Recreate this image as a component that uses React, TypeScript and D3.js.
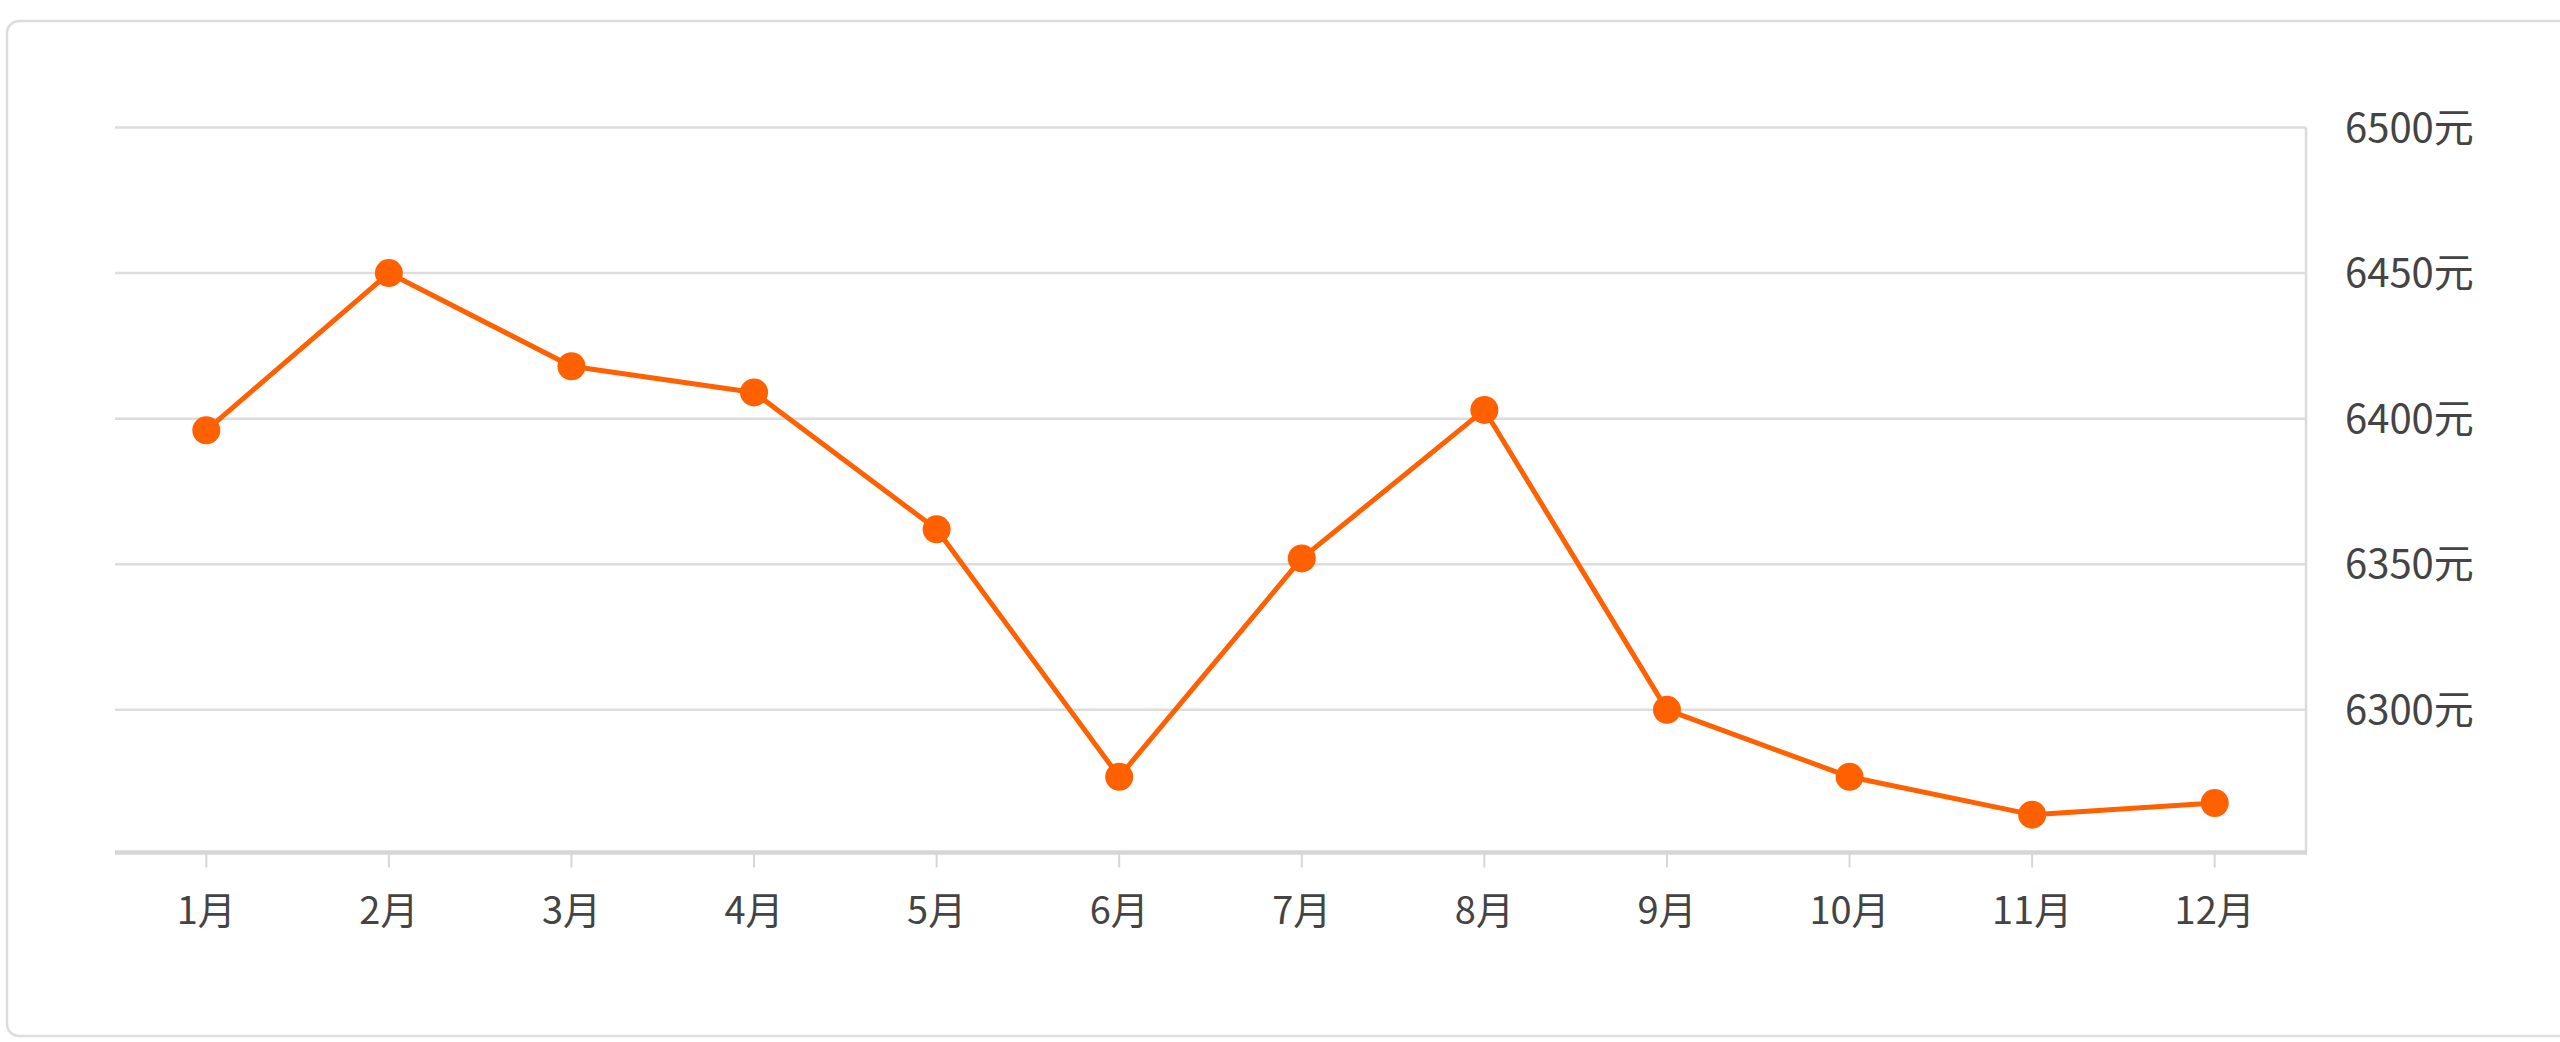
import React from "react";
import * as d3 from "d3";

const months = ["1月", "2月", "3月", "4月", "5月", "6月", "7月", "8月", "9月", "10月", "11月", "12月"];
const prices = [6396, 6450, 6418, 6409, 6362, 6277, 6352, 6403, 6300, 6277, 6264, 6268];
const yTicks = [6300, 6350, 6400, 6450, 6500];
const yUnit = "元";

const W = 2560;
const H = 1042;
const FONT = '"Noto Sans CJK SC", "Noto Sans", sans-serif';

export default function App() {
  const left = 115;
  const right = 2306;
  const top = 127.5;
  const bottom = 852.5;

  const x = d3.scalePoint<string>().domain(months).range([left, right]).padding(0.5);
  const y = d3.scaleLinear().domain([6251, 6500]).range([bottom, top]);

  const line = d3
    .line<number>()
    .x((_, i) => x(months[i]) as number)
    .y((d) => y(d));

  const color = "#ff6000";

  return (
    <svg
      width={W}
      height={H}
      style={{ position: "absolute", left: 0, top: 0, background: "#fff" }}
    >
      <rect x={7} y={21} width={2600} height={1015} rx={12} ry={12} fill="#fff" stroke="#dcdcdc" strokeWidth={2.5} />
      {/* gridlines */}
      {yTicks.map((t) => (
        <line key={t} x1={left} x2={right} y1={y(t)} y2={y(t)} stroke="#dcdcdc" strokeWidth={2.5} />
      ))}
      {/* right axis line */}
      <line x1={right} x2={right} y1={top} y2={bottom} stroke="#dcdcdc" strokeWidth={2.5} />
      {/* x axis line */}
      <line x1={left} x2={right + 1} y1={bottom} y2={bottom} stroke="#d6d6d6" strokeWidth={4.5} />
      {/* ticks */}
      {months.map((m) => (
        <line key={m} x1={x(m)} x2={x(m)} y1={bottom} y2={bottom + 15} stroke="#d6d6d6" strokeWidth={2} />
      ))}
      {/* x labels */}
      {months.map((m) => (
        <text
          key={m}
          x={x(m)}
          y={907}
          textAnchor="middle"
          dominantBaseline="central"
          fontFamily={FONT}
          fontSize={38}
          fill="#444"
        >
          {m}
        </text>
      ))}
      {/* y labels */}
      {yTicks.map((t) => (
        <text
          key={t}
          x={2345}
          y={y(t) - 3}
          textAnchor="start"
          dominantBaseline="central"
          fontFamily={FONT}
          fontSize={40}
          fill="#444"
        >
          {`${t}${yUnit}`}
        </text>
      ))}
      {/* series */}
      <path d={line(prices) || ""} fill="none" stroke={color} strokeWidth={5} strokeLinejoin="round" />
      {prices.map((p, i) => (
        <circle key={i} cx={x(months[i])} cy={y(p)} r={14} fill={color} />
      ))}
    </svg>
  );
}
